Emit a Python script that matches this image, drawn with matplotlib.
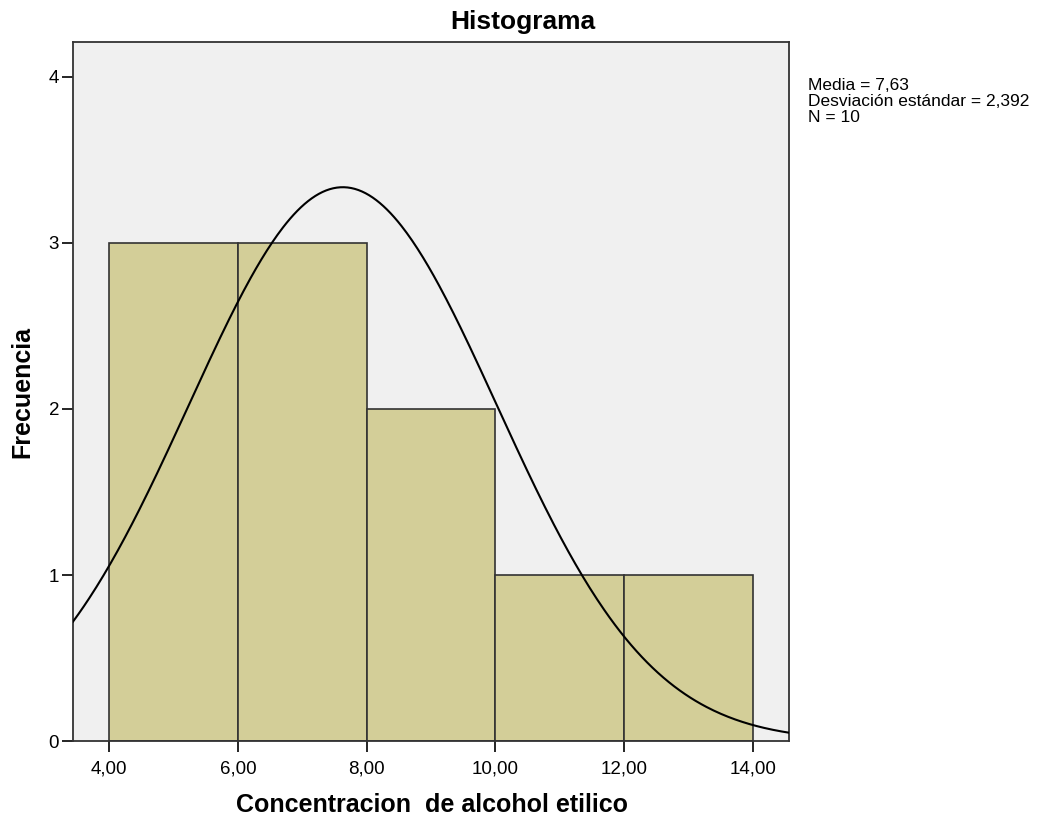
import numpy as np
import matplotlib.pyplot as plt

# histogram data read from the SPSS output
bin_edges = [4, 6, 8, 10, 12, 14]
counts = [3, 3, 2, 1, 1]
media = 7.63
desv = 2.392
n = 10

plt.rcParams['font.family'] = ['Liberation Sans', 'DejaVu Sans']

fig = plt.figure(figsize=(10.46, 8.21), dpi=100)
ax = fig.add_axes([0.0698, 0.0974, 0.6845, 0.8514])
ax.set_facecolor('#F0F0F0')

widths = np.diff(bin_edges)
ax.bar(bin_edges[:-1], counts, width=widths, align='edge',
       color='#D3CE98', edgecolor='#333333', linewidth=1.2, zorder=2)

# normal curve scaled to counts
xs = np.linspace(3.44, 14.56, 400)
ys = n * widths[0] / (desv * np.sqrt(2 * np.pi)) * np.exp(-0.5 * ((xs - media) / desv) ** 2)
ax.plot(xs, ys, color='black', linewidth=1.5, zorder=3)

ax.set_xlim(3.44, 14.56)
ax.set_ylim(0, 4.21)
ax.set_xticks(bin_edges)
ax.set_xticklabels([f'{v:.2f}'.replace('.', ',') for v in bin_edges])
ax.set_yticks([0, 1, 2, 3, 4])
ax.tick_params(direction='out', length=8, width=1.2, labelsize=13.5, colors='black')
ax.tick_params(axis='x', pad=6)
ax.tick_params(axis='y', pad=2)

for s in ax.spines.values():
    s.set_color('#333333')
    s.set_linewidth(1.3)

fig.text(0.5, 0.973, 'Histograma', fontsize=19, fontweight='bold', ha='center', va='center')
fig.text(0.413, 0.019, 'Concentracion  de alcohol etilico', fontsize=18, fontweight='bold',
         ha='center', va='center')
fig.text(0.021, 0.523, 'Frecuencia', fontsize=18, fontweight='bold', rotation=90,
         ha='center', va='center')

fig.text(0.772, 0.905, f'Media = {media:.2f}'.replace('.', ',') + '\n'
         + f'Desviación estándar = {desv:.3f}'.replace('.', ',') + '\n'
         + f'N = {n}', fontsize=12.5, va='top', ha='left', linespacing=1.1)

fig.savefig('out.png', dpi=100)
